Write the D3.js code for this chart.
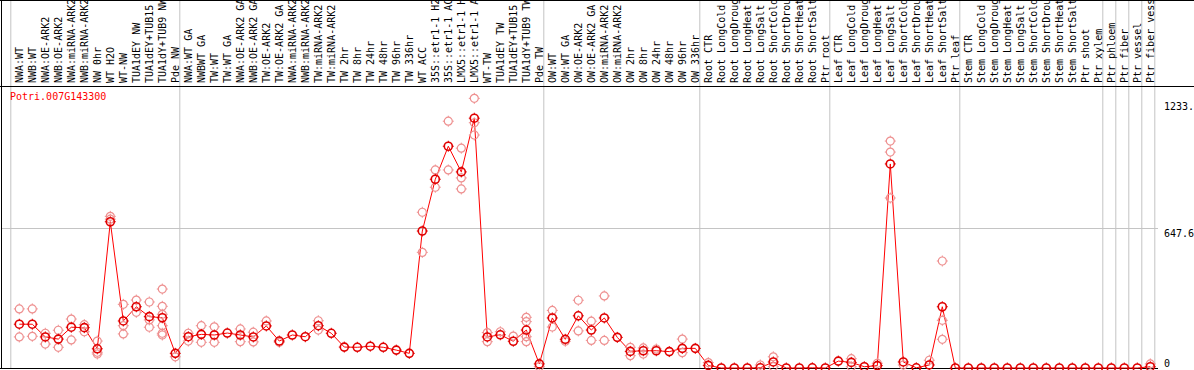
<!DOCTYPE html>
<html>
<head>
<meta charset="utf-8">
<script src="https://cdn.jsdelivr.net/npm/d3@7"></script>
<style>
  body { margin: 0; background: #fff; }
  text { font-family: "DejaVu Sans Mono", monospace; font-size: 10px; }
</style>
</head>
<body>
<svg id="chart" width="1194" height="370"></svg>
<script>
var geneName = "Potri.007G143300";

var categories = [
  "NWA:WT", "NWB:WT", "NWA:OE-ARK2", "NWB:OE-ARK2", "NWA:miRNA-ARK2", "NWB:miRNA-ARK2",
  "NW 0hr", "WT H2O", "WT-NW", "TUA1dEY NW", "TUA1dEY+TUB15", "TUA1dY+TUB9 NW", "Pde NW",
  "NWA:WT GA", "NWBWT GA", "TW:WT", "TW:WT GA", "NWA:OE-ARK2 GA", "NWB:OE-ARK2 GA",
  "TW:OE-ARK2", "TW:OE-ARK2 GA", "NWA:miRNA-ARK2", "NWB:miRNA-ARK2", "TW:miRNA-ARK2",
  "TW:miRNA-ARK2", "TW 2hr", "TW 8hr", "TW 24hr", "TW 48hr", "TW 96hr", "TW 336hr",
  "WT ACC", "35S::etr1-1 H2", "35S::etr1-1 AC", "LMX5::etr1-1 H", "LMX5::etr1-1 A",
  "WT-TW", "TUA1dEY TW", "TUA1dEY+TUB15", "TUA1dY+TUB9 TW", "Pde TW",
  "OW:WT", "OW:WT GA", "OW:OE-ARK2", "OW:OE-ARK2 GA", "OW:miRNA-ARK2", "OW:miRNA-ARK2",
  "OW 2hr", "OW 8hr", "OW 24hr", "OW 48hr", "OW 96hr", "OW 336hr",
  "Root CTR", "Root LongCold", "Root LongDroug", "Root LongHeat", "Root LongSalt",
  "Root ShortCold", "Root ShortDrou", "Root ShortHeat", "Root ShortSalt", "Ptr root",
  "Leaf CTR", "Leaf LongCold", "Leaf LongDroug", "Leaf LongHeat", "Leaf LongSalt",
  "Leaf ShortCold", "Leaf ShortDrou", "Leaf ShortHeat", "Leaf ShortSalt", "Ptr leaf",
  "Stem CTR", "Stem LongCold", "Stem LongDroug", "Stem LongHeat", "Stem LongSalt",
  "Stem ShortCold", "Stem ShortDrou", "Stem ShortHeat", "Stem ShortSalt", "Ptr shoot",
  "Ptr xylem", "Ptr phloem", "Ptr fiber", "Ptr vessel", "Ptr fiber vess"
];

var means = [
  203, 203, 144, 134, 189, 187, 89, 678, 218, 284, 238, 233, 68,
  145, 156, 153, 162, 153, 144, 195, 125, 153, 145, 196, 161, 97, 96, 101, 96, 83, 68,
  635, 875, 1028, 909, 1158, 144, 154, 124, 176, 19,
  232, 133, 242, 176, 232, 142, 77, 80, 80, 76, 91, 91,
  12, 0, 0, 0, 1, 28, 0, 0, 1, 0,
  32, 26, 6, 11, 946, 28, 1, 14, 284, 0,
  0, 0, 0, 0, 0, 0, 0, 0, 0, 0,
  0, 0, 0, 0, 6
];

var replicates = [
  [274, 144], [274, 147], [161, 111], [175, 96], [227, 130], [201, 168], [125, 73, 65],
  [703, 690], [295, 196, 158], [315, 258], [306, 223, 189], [366, 286, 249, 196, 161, 153], [52],
  [161, 125], [196, 119], [191, 119], [], [181, 122], [166, 121], [218], [119], [], [],
  [219, 176], [], [], [], [], [], [], [],
  [722, 536], [918, 838], [1144, 918], [1019, 881, 830], [1250, 1137, 1080],
  [164, 122], [168], [148], [235, 215, 145, 122], [6],
  [267, 190], [124], [314, 172], [217, 128], [334, 128], [], [96, 57], [93, 65], [88], [], [134, 71], [],
  [25], [], [], [], [14], [52, 6], [], [], [], [],
  [], [43, 6], [], [22], [1052, 1001, 788], [14], [], [36], [496, 221, 133], [],
  [], [], [], [], [], [], [], [], [], [],
  [], [], [], [], [19]
];

// index of first category of each group, last entry closes the final group
var groupStarts = [0, 13, 41, 53, 63, 73, 84, 85, 86, 87, 88];
var yTicks = [0, 647.6, 1233.4];
var yMax = 1295.2;

var svg = d3.select("#chart");
var n = categories.length;

var x = d3.scaleBand().domain(d3.range(n)).range([12.8, 12.8 + 13 * n]);
var y = d3.scaleLinear().domain([0, yMax]).range([368, 88.6]);
function cx(i) { return x(i) + x.bandwidth() / 2; }

// group gridlines
svg.selectAll("line.vgrid").data(groupStarts).enter()
  .append("line")
  .attr("class", "vgrid")
  .attr("x1", function(d) { return (d < n ? x(d) : x(n - 1) + x.bandwidth()) - 2; })
  .attr("x2", function(d) { return (d < n ? x(d) : x(n - 1) + x.bandwidth()) - 2; })
  .attr("y1", 0)
  .attr("y2", 368)
  .attr("stroke", "#c4c4c4")
  .attr("stroke-width", 1);

svg.append("line")
  .attr("x1", 1).attr("x2", 1158)
  .attr("y1", Math.round(y(647.6)) + 0.5).attr("y2", Math.round(y(647.6)) + 0.5)
  .attr("stroke", "#c4c4c4");

// frame
svg.append("line").attr("x1", 0).attr("x2", 1194).attr("y1", 0.5).attr("y2", 0.5).attr("stroke", "#000");
svg.append("line").attr("x1", 0).attr("x2", 1194).attr("y1", 86.5).attr("y2", 86.5).attr("stroke", "#000");
svg.append("line").attr("x1", 1.5).attr("x2", 1.5).attr("y1", 0).attr("y2", 369).attr("stroke", "#000");
svg.append("line").attr("x1", 0).attr("x2", 1158).attr("y1", 368.5).attr("y2", 368.5).attr("stroke", "#000");

// category labels
svg.selectAll("text.cat").data(categories).enter()
  .append("text")
  .attr("class", "cat")
  .attr("transform", function(d, i) { return "translate(" + (cx(i) + 3.6) + ",83) rotate(-90)"; })
  .attr("fill", "#000")
  .text(function(d) { return d; });

// mean line
var line = d3.line()
  .x(function(d, i) { return cx(i); })
  .y(function(d) { return y(d); });

svg.append("path")
  .datum(means)
  .attr("d", line)
  .attr("fill", "none")
  .attr("stroke", "#ff0000")
  .attr("stroke-width", 1);

var marker = "M0,-5.5V-4M0,4V5.5M-5.5,0H-4M4,0H5.5";

// replicates
var reps = [];
replicates.forEach(function(r, i) { r.forEach(function(v) { reps.push([i, v]); }); });

var rg = svg.selectAll("g.rep").data(reps).enter()
  .append("g")
  .attr("class", "rep")
  .attr("transform", function(d) { return "translate(" + cx(d[0]) + "," + y(d[1]) + ")"; });
rg.append("circle").attr("r", 4).attr("fill", "none").attr("stroke", "#ee9090").attr("stroke-width", 1.2);
rg.append("path").attr("d", marker).attr("stroke", "#ee9090").attr("stroke-width", 1);

// means
var mg = svg.selectAll("g.mean").data(means).enter()
  .append("g")
  .attr("class", "mean")
  .attr("transform", function(d, i) { return "translate(" + cx(i) + "," + y(d) + ")"; });
mg.append("circle").attr("r", 4).attr("fill", "none").attr("stroke", "#e00000").attr("stroke-width", 1.6);
mg.append("path").attr("d", marker).attr("stroke", "#e00000").attr("stroke-width", 1);

// title
svg.append("text")
  .attr("x", 10)
  .attr("y", 100)
  .attr("fill", "#ff0000")
  .text(geneName);

// value axis on the right, labels cut to 5 characters like the source
var yaxis = d3.axisRight(y).tickValues(yTicks).tickSize(0)
  .tickFormat(function(d) { return String(d).slice(0, 5); });

var ax = svg.append("g")
  .attr("transform", "translate(1161,0)")
  .call(yaxis);
ax.select(".domain").remove();
ax.selectAll("text")
  .attr("font-family", "DejaVu Sans Mono, monospace")
  .attr("font-size", 10)
  .attr("fill", "#000")
  .attr("dy", function(d) { return d === 0 ? "-0.2em" : "0.8em"; });
</script>
</body>
</html>
